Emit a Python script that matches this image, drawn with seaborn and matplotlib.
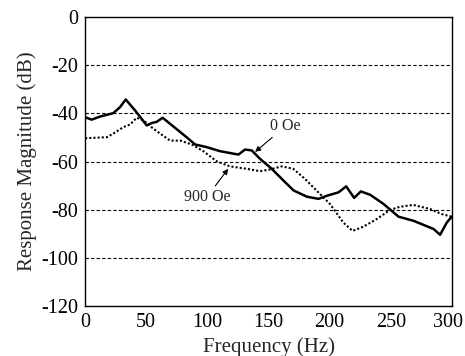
import matplotlib
matplotlib.use("Agg")
import matplotlib.pyplot as plt
import matplotlib.transforms as mtransforms
import pandas as pd
import seaborn as sns

# Frequency response at zero field (0 Oe)
freq_0 = [0, 5.4, 12.3, 23, 28.6, 33.2, 40.9, 50.4, 54.5, 58.6, 63.4, 72.1, 83, 89.9,
          99.4, 110.4, 125.4, 130.8, 136.3, 143.1, 152.6, 162.2, 170.5, 181.4, 190.9,
          197.7, 207.2, 213.5, 220, 225.5, 233.1, 244, 256.3, 268.5, 284.9, 290.3,
          295.8, 299.8]
mag_0 = [-41.6, -42.6, -41.3, -39.9, -37.4, -34.2, -38.8, -45, -44, -43.5, -41.8, -45.4,
         -49.9, -52.9, -54, -55.7, -57.1, -55, -55.4, -58.9, -63, -67.9, -72, -74.6,
         -75.5, -74.2, -72.8, -70.3, -75.1, -72.4, -73.8, -77.6, -82.9, -84.6, -88,
         -90.4, -85.3, -82.9]

# Frequency response with 900 Oe bias field
freq_900 = [0, 17.7, 23, 31.3, 36.8, 42.2, 47.7, 55.9, 69.5, 77.7, 87.2, 96.7, 107.6,
            118.5, 132.1, 143, 151.2, 160.7, 170.2, 179.8, 186.6, 200.2, 211.1, 218.7,
            227.4, 238.4, 249.3, 257.4, 268.3, 282, 291.6, 299.8]
mag_900 = [-50.3, -49.9, -48.4, -45.7, -44.6, -41.8, -42.9, -46.4, -51.3, -51.3, -52.9,
           -55.7, -59.9, -62, -63, -64, -63.3, -62, -63, -67.2, -70.7, -77.6, -85.3,
           -88.8, -87.1, -83.9, -80.1, -78.8, -78, -79.7, -81.8, -82.9]

x_ticks = [0, 50, 100, 150, 200, 250, 300]
y_ticks = [0, -20, -40, -60, -80, -100, -120]
grid_levels = [-20, -40, -60, -80, -100]

sns.set_style("white")
plt.rcParams["font.family"] = ["Liberation Serif", "DejaVu Serif"]
plt.rcParams["axes.unicode_minus"] = False

df0 = pd.DataFrame({"f": freq_0, "m": mag_0})
df9 = pd.DataFrame({"f": freq_900, "m": mag_900})

fig = plt.figure(figsize=(4.65, 3.56), dpi=100)
ax = fig.add_axes([0.183, 0.1404, 0.789, 0.8116])

for lv in grid_levels:
    ax.axhline(lv, color="black", lw=0.8, ls=(0, (3, 2)), zorder=1)

sns.lineplot(data=df0, x="f", y="m", ax=ax, color="black", lw=1.8, zorder=3)
sns.lineplot(data=df9, x="f", y="m", ax=ax, color="black", lw=1.5,
             ls=(0, (1, 1)), zorder=3)

ax.set_xlim(0, 300)
ax.set_ylim(-120, 0)
ax.set_xticks(x_ticks)
ax.set_yticks(y_ticks)
ax.tick_params(direction="in", length=3, width=0.8, labelsize=14.5, colors="black")
ax.tick_params(axis="x", pad=5)
ax.tick_params(axis="y", pad=5)
for s in ax.spines.values():
    s.set_color("black")
    s.set_linewidth(1.0)

# nudge the last frequency label inward so it stays inside the figure
last = ax.get_xticklabels()[-1]
last.set_transform(last.get_transform() +
                   mtransforms.ScaledTranslation(-4 / 100, 0, fig.dpi_scale_trans))

ax.set_xlabel("Frequency (Hz)", fontsize=15, labelpad=4)
ax.set_ylabel("Response Magnitude (dB)", fontsize=15, labelpad=3)

arrow = dict(arrowstyle="-|>", color="black", lw=0.8, mutation_scale=8,
             shrinkA=0, shrinkB=0)
ax.annotate("0 Oe", xy=(139, -56), xytext=(164, -45.3), ha="center", va="center",
            fontsize=11.5, arrowprops=arrow)
ax.annotate("900 Oe", xy=(117, -63), xytext=(99.5, -74.8), ha="center", va="center",
            fontsize=11.5, arrowprops=arrow)

fig.savefig("out.png", dpi=100)
